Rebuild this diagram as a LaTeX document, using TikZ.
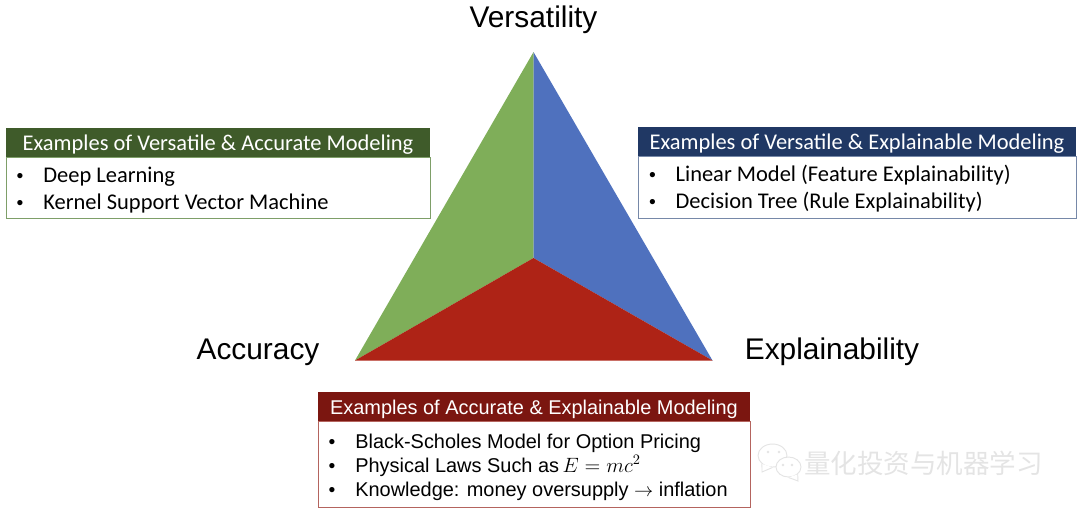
\documentclass[tikz,border=0pt]{standalone}
\usepackage{fontspec}
\setmainfont{Carlito}
\newfontfamily\arialfont{Liberation Sans}
\newfontfamily\cjkfont{Noto Sans CJK SC}
\usetikzlibrary{positioning, calc, shapes.geometric}
\definecolor{versgreen}{HTML}{7FAE59}
\definecolor{explblue}{HTML}{4F71BE}
\definecolor{accured}{HTML}{AE2316}
\definecolor{greenhead}{HTML}{3F5B2A}
\definecolor{greenborder}{HTML}{7E9F68}
\definecolor{bluehead}{HTML}{203864}
\definecolor{blueborder}{HTML}{7688A8}
\definecolor{redhead}{HTML}{7B1610}
\definecolor{redborder}{HTML}{B4645E}
\definecolor{markgray}{HTML}{E4E4E4}
\newcommand{\bulletline}[1]{\makebox[27pt][l]{\hspace{7pt}{\arialfont\fontsize{14.5}{14.5}\selectfont\textbullet}}#1}
\tikzset{
  vertexlbl/.style={font=\arialfont\fontsize{22.4}{26}\selectfont, text=black, inner sep=0pt},
  headbox/.style={
    anchor=north west, inner sep=0pt, outer sep=0pt, text=white, align=center,
    minimum height=21.75pt, text height=17.1pt, text depth=4.65pt,
    font=\fontsize{16.85}{18}\selectfont,
  },
  bodybox/.style={
    below=0pt of #1, fill=white, inner sep=0pt, outer sep=0pt, align=left, text=black,
    line width=0.6pt, font=\fontsize{16.85}{20.25}\selectfont,
  },
  arialtext/.style={font=\arialfont\fontsize{14.95}{18}\selectfont},
  markbubble/.style={ellipse, draw=markgray, fill=white, line width=0.7pt, inner sep=0pt},
  markeye/.style={circle, fill=markgray, minimum size=2pt, inner sep=0pt},
}

\begin{document}
\begin{tikzpicture}[x=0.75pt, y=-0.75pt]
\useasboundingbox (0,0) rectangle (1080,512);

% ── triangle corners ───────────────────────────────────────────────────
\coordinate (apex)   at (533.5,52);
\coordinate (left)   at (355,360.5);
\coordinate (right)  at (712.5,360.5);
\coordinate (centre) at (533.5,258);

\fill[versgreen] (apex) -- (centre) -- (left) -- cycle;
\fill[explblue]  (apex) -- (right) -- (centre) -- cycle;
\fill[accured]   (left) -- (centre) -- (right) -- cycle;

% ── corner labels ──────────────────────────────────────────────────────
\node[vertexlbl] (vers) at (533.5,19.5) {Versatility};
\node[vertexlbl] (accu) at (258,352)    {Accuracy};
\node[vertexlbl] (expl) at (832,352)    {Explainability};

% ── left box: versatile and accurate ───────────────────────────────────
\node[headbox, fill=greenhead, minimum width=318pt] (vahead) at (6,128)
  {Examples of Versatile \& Accurate Modeling};
\node[bodybox=vahead, minimum width=318pt, minimum height=45.75pt,
      draw=greenborder] (vabody) {%
  \makebox[316pt][l]{\rule{0pt}{15.5pt}\bulletline{Deep Learning}}\\
  \makebox[316pt][l]{\bulletline{Kernel Support Vector Machine}}};

% ── right box: versatile and explainable ───────────────────────────────
\node[headbox, fill=bluehead, minimum width=328.5pt] (vehead) at (638,127)
  {Examples of Versatile \& Explainable Modeling};
\node[bodybox=vehead, minimum width=328.5pt, minimum height=46.5pt,
      draw=blueborder] (vebody) {%
  \makebox[326pt][l]{\rule{0pt}{15pt}\bulletline{Linear Model (Feature Explainability)}}\\
  \makebox[326pt][l]{\bulletline{Decision Tree (Rule Explainability)}}};

% ── bottom box: accurate and explainable ───────────────────────────────
\node[headbox, fill=redhead, minimum width=324pt, arialtext,
      text height=16.75pt, text depth=5pt] (aehead) at (318,392)
  {Examples of Accurate \& Explainable Modeling};
\node[bodybox=aehead, minimum width=324pt, minimum height=64.5pt,
      draw=redborder, arialtext] (aebody) {%
  \makebox[322pt][l]{\rule{0pt}{15.5pt}\bulletline{Black-Scholes Model for Option Pricing}}\\
  \makebox[322pt][l]{\bulletline{Physical Laws Such as\hspace{-1.5pt} \scalebox{1.08}{$E = mc^2$}}}\\
  \makebox[322pt][l]{\bulletline{Knowledge: money oversupply $\rightarrow$ inflation}}};

% ── watermark ──────────────────────────────────────────────────────────
\node[markbubble, minimum width=21.75pt, minimum height=17.25pt] (bubbleA) at (772.5,455.5) {};
\coordinate (tailA) at (762,472);
\draw[draw=markgray, fill=white, line width=0.7pt] (bubbleA.south west) -- (tailA) -- (bubbleA.south);
\node[markbubble, minimum width=18.75pt, minimum height=15pt] (bubbleB) at (788.5,467) {};
\coordinate (tailB) at (798,481);
\draw[draw=markgray, fill=white, line width=0.7pt] (bubbleB.south) -- (tailB) -- (bubbleB.south east);
\node[markeye] (eyeA) at (768,452) {};
\node[markeye] (eyeB) at (779,452) {};
\node[markeye] (eyeC) at (783,465) {};
\node[markeye] (eyeD) at (792,465) {};
\node[font=\cjkfont\fontsize{19.9}{22}\selectfont, text=markgray, inner sep=0pt] (wmark) at (923.5,463)
  {量化投资与机器学习};

\end{tikzpicture}
\end{document}
